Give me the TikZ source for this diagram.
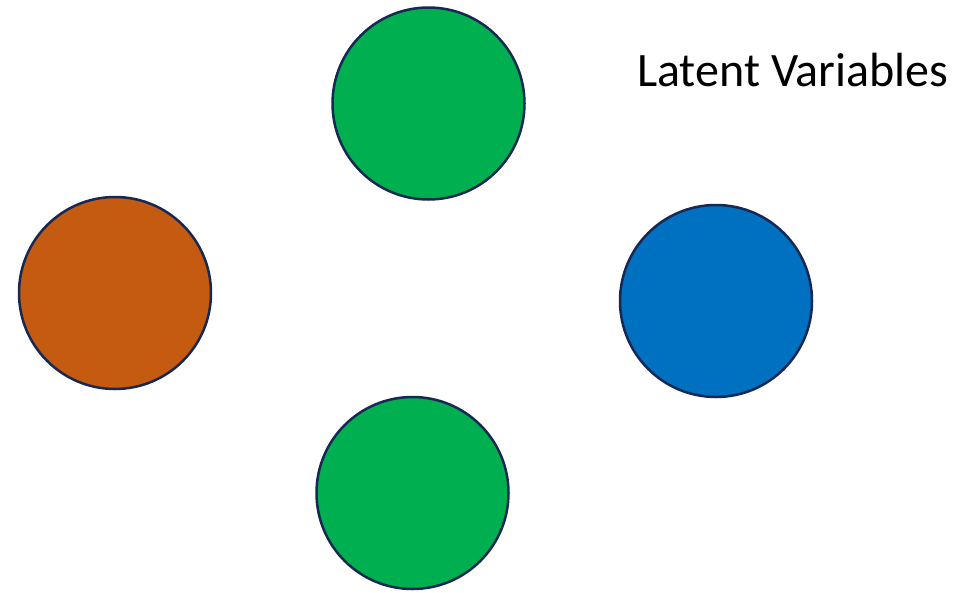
\documentclass[tikz,border=0pt]{standalone}
\usepackage{fontspec}
\setmainfont{Carlito}
\usepackage{xcolor}
\definecolor{latgreen}{RGB}{0,176,80}
\definecolor{latorange}{RGB}{197,90,17}
\definecolor{latblue}{RGB}{0,112,192}
\definecolor{latedge}{RGB}{23,40,82}

\begin{document}
\begin{tikzpicture}[
    x=1pt, y=-1pt,
    latent/.style={circle, draw=latedge, line width=2.5pt, minimum size=192pt, inner sep=0pt},
    title/.style={anchor=base west, inner sep=0pt, font=\fontsize{48}{58}\selectfont}
]
    \useasboundingbox (0,0) rectangle (974,592);

    % Latent variable circles
    \node[latent, fill=latgreen] (top) at (428.5,103.5) {};
    \node[latent, fill=latorange] (left) at (115,293) {};
    \node[latent, fill=latblue] (right) at (716,301) {};
    \node[latent, fill=latgreen] (bottom) at (412.5,493) {};

    % Caption
    \node[title] (caption) at (637,86) {Latent Variables};
\end{tikzpicture}
\end{document}
